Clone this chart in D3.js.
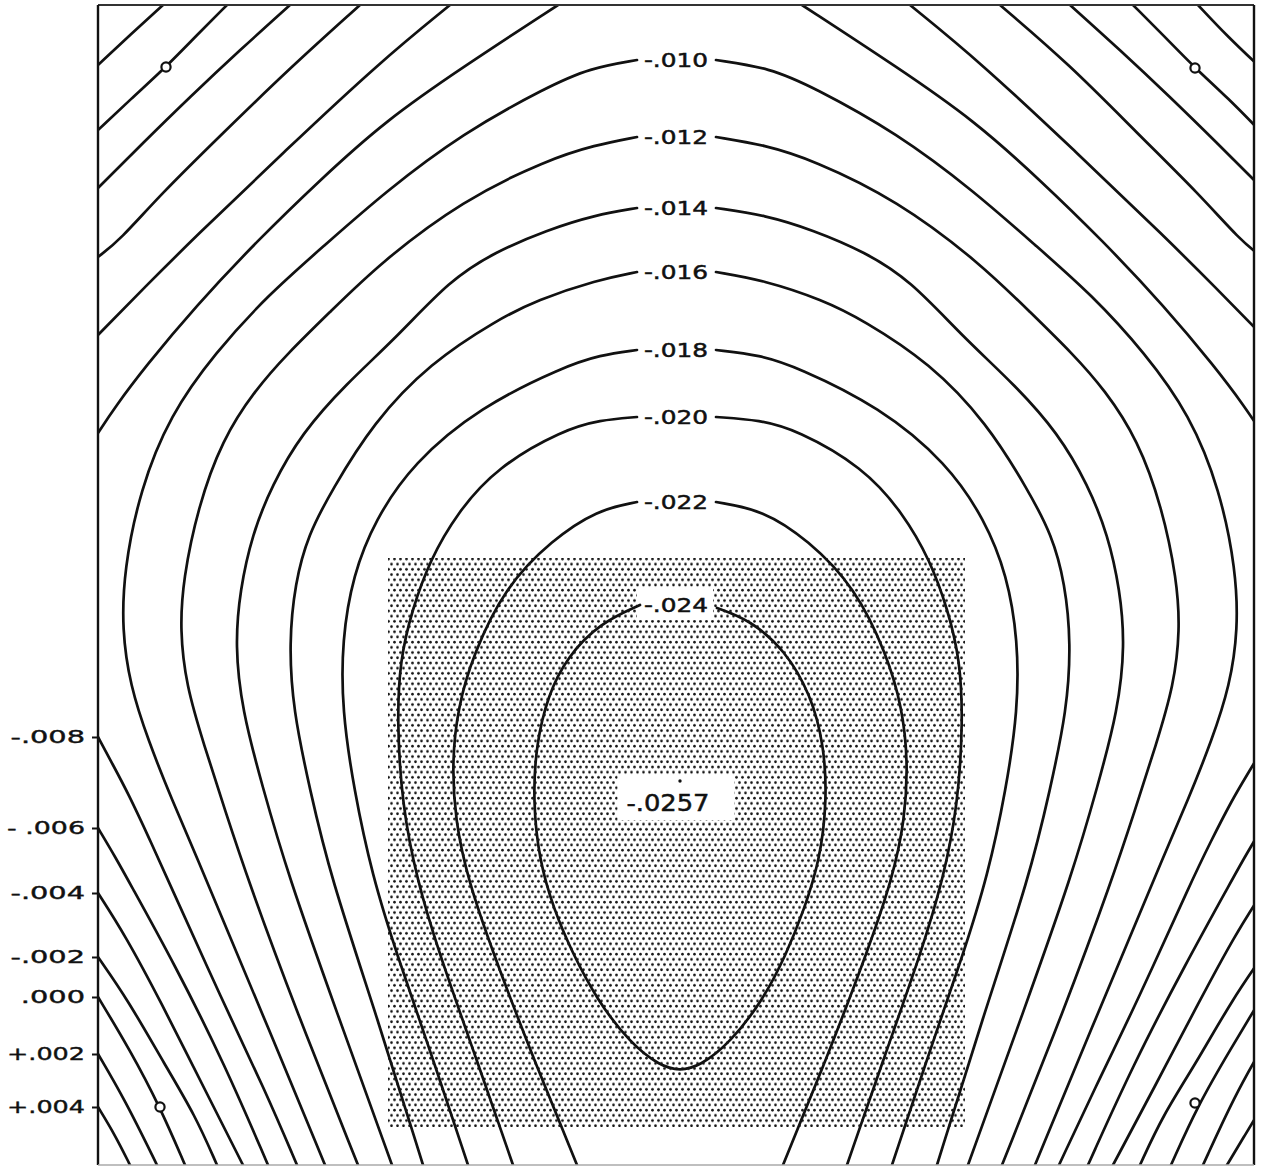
<!DOCTYPE html>
<html>
<head>
<meta charset="utf-8">
<script src="https://cdn.jsdelivr.net/npm/d3@7"></script>
<style>
  body { margin: 0; background: #fff; }
  svg { display: block; }
</style>
</head>
<body>
<svg id="chart" width="1262" height="1167"></svg>
<script>
// Deflection contours of a square plate on four corner supports.
// Plate coordinates: x measured from the centre line, y measured down from the top edge.

// --- contour lines, lower (shallow) levels near the corners ---
const tl_p002 = [[-517,0],[-550,30],[-582,60]];
const tr_p002 = [[518,0],[548,32],[582,64]];
const tl_000  = [[-453,0],[-484,31],[-514,62],[-548,93],[-582,125]];
const tr_000  = [[453,0],[484,31],[515,63],[548,93],[582,128]];
const tl_m002 = [[-390,0],[-440,45],[-490,92],[-537,138],[-582,183]];
const tr_m002 = [[390,0],[440,45],[490,92],[537,138],[582,183]];
const tl_m004 = [[-320,0],[-390,63],[-457,128],[-520,190],[-560,235],[-582,252]];
const tr_m004 = [[320,0],[390,60],[457,128],[520,190],[560,235],[582,252]];
const tl_m006 = [[-230,0],[-300,57],[-394,145],[-488,235],[-535,282],[-582,330]];
const tr_m006 = [[230,0],[300,57],[394,145],[488,235],[535,282],[582,330]];
const tl_m008 = [[-122,0],[-217,62],[-295,116],[-360,175],[-422,235],[-485,302],[-535,362],[-565,402],[-582,428]];
const tr_m008 = [[122,0],[217,62],[295,116],[360,175],[422,235],[485,302],[535,362],[565,402],[582,428]];

const bl_m008 = [[-582,732],[-567,760],[-552,788],[-530,835],[-512,875],[-458,995],[-415,1085],[-383,1160]];
const br_m008 = [[582,745],[567,770],[552,795],[530,838],[512,875],[458,995],[414,1085],[379,1160]];
const bl_m006 = [[-582,823],[-563,855],[-552,875],[-505,960],[-455,1060],[-412,1160]];
const br_m006 = [[582,823],[563,855],[552,875],[505,960],[453,1060],[408,1160]];
const bl_m004 = [[-582,888],[-555,930],[-520,995],[-475,1085],[-437,1160]];
const br_m004 = [[582,888],[555,930],[520,995],[473,1085],[433,1160]];
const bl_m002 = [[-582,952],[-552,995],[-515,1060],[-485,1110],[-463,1160]];
const br_m002 = [[582,952],[552,995],[515,1060],[483,1110],[460,1160]];
const bl_000  = [[-582,992],[-550,1045],[-520,1102],[-495,1160]];
const br_000  = [[582,992],[550,1045],[518,1100],[491,1160]];
const bl_p002 = [[-582,1049],[-555,1095],[-523,1160]];
const br_p002 = [[582,1043],[555,1090],[523,1160]];
const bl_p004 = [[-582,1102],[-565,1130],[-550,1160]];
const br_p004 = [[582,1102],[565,1130],[547,1160]];

// --- contour lines around the central dip (split at their labels) ---
const l_m010 = [[-43,55],[-90,63],[-133,82],[-217,128],[-295,187],[-355,240],[-412,290],[-465,348],[-510,410],[-540,485],[-556,565],[-558,625],[-550,680],[-532,735],[-508,795],[-482,855],[-455,920],[-415,1015],[-355,1160]];
const r_m010 = [[36,55],[90,63],[133,82],[217,128],[295,187],[355,240],[412,290],[465,348],[510,410],[540,485],[556,565],[558,625],[550,680],[532,735],[508,795],[482,855],[455,920],[415,1015],[355,1160]];
const l_m012 = [[-43,132],[-85,140],[-133,155],[-217,195],[-300,258],[-350,307],[-392,348],[-425,385],[-458,435],[-482,502],[-497,575],[-500,625],[-494,680],[-476,740],[-455,805],[-432,875],[-384,1005],[-322,1160]];
const r_m012 = [[36,132],[85,140],[133,155],[217,195],[300,258],[350,307],[392,348],[425,385],[458,435],[482,502],[497,575],[500,625],[494,680],[476,740],[455,805],[432,875],[384,1005],[322,1160]];
const l_m014 = [[-43,203],[-85,210],[-133,225],[-185,247],[-230,275],[-283,332],[-335,380],[-378,428],[-408,480],[-428,530],[-440,585],[-445,640],[-438,705],[-418,780],[-392,870],[-344,1005],[-288,1160]];
const r_m014 = [[36,203],[85,210],[133,225],[185,247],[230,275],[283,332],[335,380],[378,428],[408,480],[428,530],[440,585],[445,640],[438,705],[418,780],[392,870],[344,1005],[288,1160]];
const l_m016 = [[-43,267],[-83,275],[-143,295],[-183,315],[-250,358],[-307,418],[-348,485],[-372,530],[-385,578],[-391,638],[-387,705],[-370,785],[-350,870],[-302,1015],[-257,1160]];
const r_m016 = [[36,267],[83,275],[143,295],[183,315],[250,358],[307,418],[348,485],[372,530],[385,578],[391,638],[387,705],[370,785],[350,870],[302,1015],[257,1160]];
const l_m018 = [[-43,345],[-80,350],[-117,362],[-200,402],[-267,458],[-305,515],[-327,570],[-338,635],[-338,705],[-326,785],[-308,870],[-283,950],[-250,1045],[-212,1160]];
const r_m018 = [[36,345],[80,350],[117,362],[200,402],[267,458],[305,515],[327,570],[338,635],[338,705],[326,785],[308,870],[283,950],[250,1045],[212,1160]];
const l_m020 = [[-43,412],[-80,415],[-117,425],[-183,462],[-223,508],[-250,555],[-268,605],[-280,655],[-283,715],[-278,800],[-263,875],[-242,945],[-205,1050],[-167,1160]];
const r_m020 = [[36,412],[80,415],[117,425],[183,462],[223,508],[250,555],[268,605],[280,655],[283,715],[278,800],[263,875],[242,945],[205,1050],[167,1160]];
const l_m022 = [[-43,497],[-83,505],[-128,535],[-175,582],[-207,650],[-222,702],[-228,755],[-225,815],[-212,875],[-188,945],[-150,1045],[-103,1160]];
const r_m022 = [[36,497],[83,505],[128,535],[175,582],[207,650],[222,702],[228,755],[225,815],[212,875],[188,945],[150,1045],[103,1160]];
const loop_m024 = [[-40,600],[-80,618],[-113,652],[-132,690],[-144,740],[-147,795],[-141,855],[-126,905],[-108,947],[-83,995],[-50,1038],[-20,1061],[0,1066],[20,1061],[50,1038],[83,995],[106,950],[124,905],[140,855],[147,795],[144,740],[131,690],[105,645],[70,615],[37,603]];

// --- labels ---
const contourLabels = ["-.010", "-.012", "-.014", "-.016", "-.018", "-.020", "-.022", "-.024"];
const contourLabelY = [55, 132, 203, 267, 345, 412, 497, 600];
const edgeLabels = ["-.008", "- .006", "-.004", "-.002", ".000", "+.002", "+.004"];
const edgeY = [732, 823, 888, 952, 992, 1049, 1102];
const minValueLabel = "-.0257";
const minPoint = [0, 776];
const supports = [[-514,62], [515,63], [-520,1102], [515,1098]];
const shadedX = [-292, 285];
const shadedY = [553, 1122];

const contourSet = [
  { level: "+.004", parts: [bl_p004, br_p004] },
  { level: "+.002", parts: [tl_p002, tr_p002, bl_p002, br_p002] },
  { level: ".000",  parts: [tl_000, tr_000, bl_000, br_000] },
  { level: "-.002", parts: [tl_m002, tr_m002, bl_m002, br_m002] },
  { level: "-.004", parts: [tl_m004, tr_m004, bl_m004, br_m004] },
  { level: "-.006", parts: [tl_m006, tr_m006, bl_m006, br_m006] },
  { level: "-.008", parts: [tl_m008, tr_m008, bl_m008, br_m008] },
  { level: "-.010", parts: [l_m010, r_m010] },
  { level: "-.012", parts: [l_m012, r_m012] },
  { level: "-.014", parts: [l_m014, r_m014] },
  { level: "-.016", parts: [l_m016, r_m016] },
  { level: "-.018", parts: [l_m018, r_m018] },
  { level: "-.020", parts: [l_m020, r_m020] },
  { level: "-.022", parts: [l_m022, r_m022] },
  { level: "-.024", parts: [loop_m024] }
];
const contourPaths = contourSet.flatMap(c => c.parts.map(p => ({ level: c.level, points: p })));

// --- drawing ---
const FONT = "'DejaVu Sans', sans-serif";
const INK = "#111";
const svg = d3.select("#chart");
const x = d3.scaleLinear().domain([-582, 574]).range([98, 1254]);
const y = d3.scaleLinear().domain([0, 1160]).range([5, 1165]);

const defs = svg.append("defs");
const dots = defs.append("pattern")
  .attr("id", "dots").attr("patternUnits", "userSpaceOnUse")
  .attr("width", 6).attr("height", 10.4);
dots.append("circle").attr("cx", 1.5).attr("cy", 2.6).attr("r", 1.35).attr("fill", "#151515");
dots.append("circle").attr("cx", 4.5).attr("cy", 7.8).attr("r", 1.35).attr("fill", "#151515");
defs.append("clipPath").attr("id", "plate").append("rect")
  .attr("x", x(-582)).attr("y", y(0))
  .attr("width", x(574) - x(-582)).attr("height", y(1160) - y(0));

// stippled central zone
svg.append("rect")
  .attr("x", x(shadedX[0])).attr("y", y(shadedY[0]))
  .attr("width", x(shadedX[1]) - x(shadedX[0]))
  .attr("height", y(shadedY[1]) - y(shadedY[0]))
  .attr("fill", "url(#dots)");

const boxLayer = svg.append("g");
const lineLayer = svg.append("g").attr("clip-path", "url(#plate)");
const textLayer = svg.append("g");

const lineGen = d3.line()
  .x(d => x(d[0])).y(d => y(d[1]))
  .curve(d3.curveBasis);

lineLayer.selectAll("path.contour")
  .data(contourPaths)
  .join("path")
  .attr("class", "contour")
  .attr("d", d => lineGen(d.points))
  .attr("fill", "none")
  .attr("stroke", INK)
  .attr("stroke-width", 2.7)
  .attr("stroke-linecap", "round")
  .attr("stroke-linejoin", "round");

// plate outline
const frame = svg.append("g");
frame.append("line").attr("x1", x(-582)).attr("x2", x(574)).attr("y1", y(0)).attr("y2", y(0))
  .attr("stroke", "#333").attr("stroke-width", 2);
frame.append("line").attr("x1", x(-582)).attr("x2", x(-582)).attr("y1", y(0)).attr("y2", y(1160))
  .attr("stroke", INK).attr("stroke-width", 2.4);
frame.append("line").attr("x1", x(574)).attr("x2", x(574)).attr("y1", y(0)).attr("y2", y(1160))
  .attr("stroke", INK).attr("stroke-width", 2.4);
frame.append("line").attr("x1", x(-582)).attr("x2", x(574)).attr("y1", y(1160)).attr("y2", y(1160))
  .attr("stroke", "#aaa").attr("stroke-width", 1.5);

// stretch a text element to a wider lettering, capped at a maximum width
function widen(sel, k, maxW) {
  sel.each(function () {
    const w = Math.min(this.getComputedTextLength() * k, maxW || Infinity);
    d3.select(this).attr("textLength", w).attr("lengthAdjust", "spacingAndGlyphs");
  });
}

// contour labels on the centre line
const labels = textLayer.selectAll("text.clabel")
  .data(contourLabels)
  .join("text")
  .attr("class", "clabel")
  .attr("x", x(-4))
  .attr("y", (d, i) => y(contourLabelY[i]))
  .attr("text-anchor", "middle")
  .attr("dominant-baseline", "central")
  .attr("font-family", FONT)
  .attr("font-size", 20)
  .attr("fill", INK)
  .attr("stroke", INK)
  .attr("stroke-width", 0.5)
  .text(d => d);
widen(labels, 1.24);
labels.each(function (d, i) {
  const b = this.getBBox();
  if (contourLabelY[i] >= shadedY[0]) {
    boxLayer.append("rect")
      .attr("x", b.x - 7).attr("y", b.y - 5)
      .attr("width", b.width + 12).attr("height", b.height + 8)
      .attr("fill", "#fff");
  }
});

// lowest point
const minLabel = textLayer.append("text")
  .attr("x", x(minPoint[0]) - 12)
  .attr("y", y(minPoint[1]) + 22)
  .attr("text-anchor", "middle")
  .attr("dominant-baseline", "central")
  .attr("font-family", FONT)
  .attr("font-size", 23)
  .attr("fill", INK)
  .attr("stroke", INK)
  .attr("stroke-width", 0.5)
  .text(minValueLabel);
widen(minLabel, 1.12);
{
  const b = minLabel.node().getBBox();
  boxLayer.append("rect")
    .attr("x", b.x - 9).attr("y", y(minPoint[1]) - 6)
    .attr("width", b.width + 34).attr("height", b.y + b.height + 4 - (y(minPoint[1]) - 6))
    .attr("fill", "#fff");
}
textLayer.append("circle")
  .attr("cx", x(minPoint[0])).attr("cy", y(minPoint[1]))
  .attr("r", 1.7).attr("fill", INK);

// corner supports
textLayer.selectAll("circle.support")
  .data(supports)
  .join("circle")
  .attr("class", "support")
  .attr("cx", d => x(d[0])).attr("cy", d => y(d[1]))
  .attr("r", 4.6).attr("fill", "#fff")
  .attr("stroke", INK).attr("stroke-width", 2.2);

// contour values where lines meet the left edge
const edgeAxis = d3.axisLeft(y)
  .tickValues(edgeY)
  .tickFormat((d, i) => edgeLabels[i])
  .tickSize(6)
  .tickPadding(7);
const axisG = svg.append("g").attr("transform", `translate(${x(-582)},0)`).call(edgeAxis);
axisG.select(".domain").remove();
axisG.selectAll(".tick line").attr("stroke", INK).attr("stroke-width", 2);
const axisText = axisG.selectAll(".tick text")
  .attr("font-family", FONT)
  .attr("font-size", 18)
  .attr("fill", INK)
  .attr("stroke", INK)
  .attr("stroke-width", 0.4);
widen(axisText, 1.6, 78);
</script>
</body>
</html>
